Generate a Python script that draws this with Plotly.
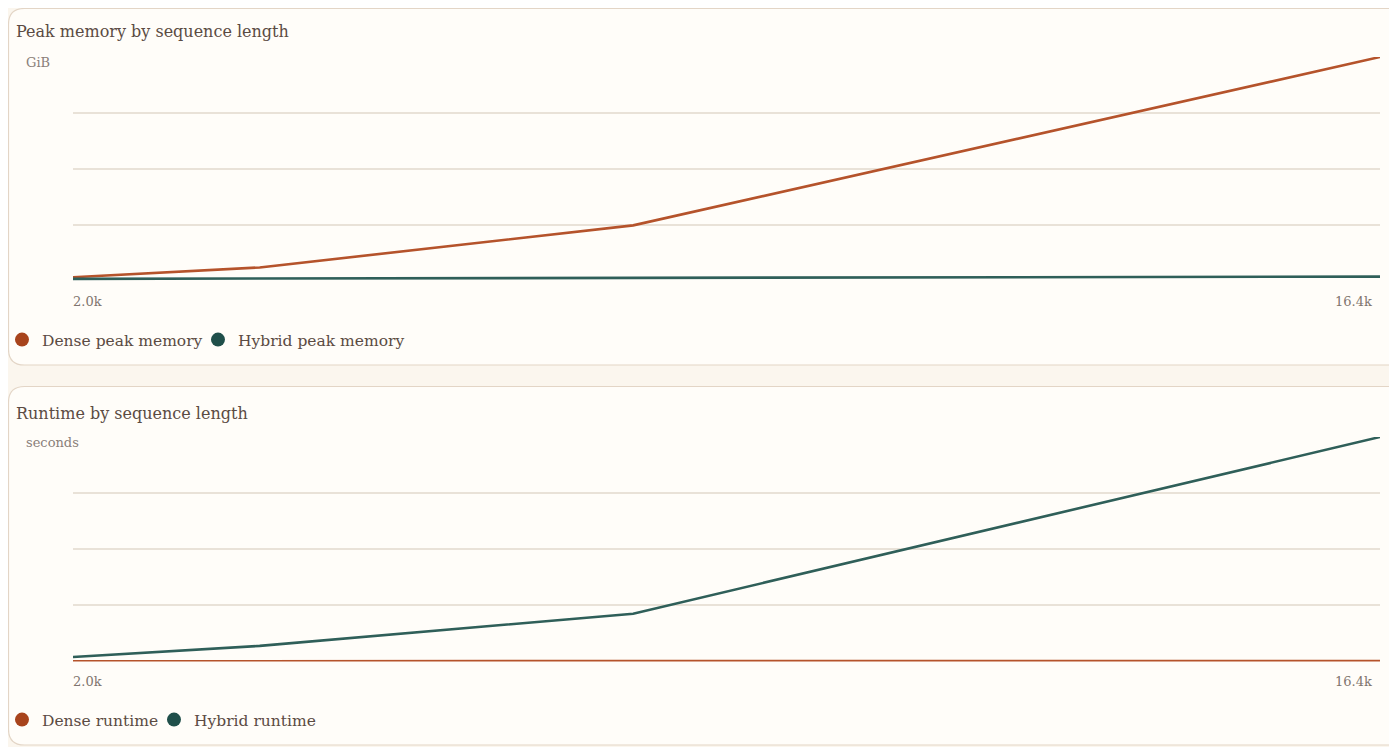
import plotly.graph_objects as go

# sequence lengths (tokens)
seq_len = [2048, 4096, 8192, 16384]
x_tick_vals = [2048, 16384]
x_tick_text = ["2.0k", "16.4k"]

# peak memory, GiB
dense_mem = [0.61, 2.0, 8.0, 32.0]
hybrid_mem = [0.38, 0.42, 0.50, 0.70]

# runtime, seconds
dense_rt = [0.05, 0.06, 0.08, 0.10]
hybrid_rt = [0.90, 3.1, 9.5, 44.6]

# page body has an 8px margin, so the figure sits at (8, 8) on screen
OFF = 8
W, H = 1397 - OFF, 747 - OFF
ORANGE_LINE = "#b5532b"
ORANGE_DOT = "#a8441c"
TEAL_LINE = "#2f5f59"
TEAL_DOT = "#1f4f4a"
FONT = "Georgia, 'DejaVu Serif', serif"


def px(x):
    return (x - OFF) / W


def py(y):
    return 1 - (y - OFF) / H


def card(x0, y0, x1, y1, r=16):
    # rounded rect path, screen pixels -> paper
    p = [
        f"M {px(x0 + r)},{py(y0)}",
        f"L {px(x1 - r)},{py(y0)}",
        f"Q {px(x1)},{py(y0)} {px(x1)},{py(y0 + r)}",
        f"L {px(x1)},{py(y1 - r)}",
        f"Q {px(x1)},{py(y1)} {px(x1 - r)},{py(y1)}",
        f"L {px(x0 + r)},{py(y1)}",
        f"Q {px(x0)},{py(y1)} {px(x0)},{py(y1 - r)}",
        f"L {px(x0)},{py(y0 + r)}",
        f"Q {px(x0)},{py(y0)} {px(x0 + r)},{py(y0)}",
        "Z",
    ]
    return dict(type="path", xref="paper", yref="paper", path=" ".join(p),
                fillcolor="#fffdf9", line=dict(color="#e3d5c6", width=1.2),
                layer="below")


fig = go.Figure()

# one legend per entry so each can be placed where the reference has it
panels = [
    ("x", "y", ["legend", "legend2"], "Dense peak memory", "Hybrid peak memory", dense_mem, hybrid_mem),
    ("x2", "y2", ["legend3", "legend4"], "Dense runtime", "Hybrid runtime", dense_rt, hybrid_rt),
]
for xa, ya, lgs, n1, n2, d, h in panels:
    series = [(n1, d, ORANGE_LINE, ORANGE_DOT), (n2, h, TEAL_LINE, TEAL_DOT)]
    draw = series if xa == "x" else series[::-1]
    for name, vals, lc, dc in draw:
        fig.add_trace(go.Scatter(x=seq_len, y=vals, mode="lines", name=name,
                                 line=dict(color=lc, width=2.6),
                                 xaxis=xa, yaxis=ya, showlegend=False))
    for (name, vals, lc, dc), lg in zip(series, lgs):
        fig.add_trace(go.Scatter(x=[None], y=[None], mode="markers", name=name,
                                 marker=dict(color=dc, size=14),
                                 xaxis=xa, yaxis=ya, legend=lg))

ymax_mem = max(dense_mem)
ymax_rt = max(hybrid_rt)
grid = dict(showgrid=True, gridcolor="#e9e2d8", gridwidth=2, zeroline=False,
            showticklabels=False, ticks="", showline=False)
xax = dict(showgrid=False, zeroline=False, showticklabels=False, ticks="",
           range=[seq_len[0], seq_len[-1]])
leg = dict(orientation="h", xanchor="left", yanchor="middle", indentation=-6,
           font=dict(size=15.5, color="#5b4b43"), bgcolor="rgba(0,0,0,0)")

fig.update_layout(
    width=W, height=H,
    margin=dict(l=0, r=0, t=0, b=0),
    paper_bgcolor="#fbf6ee",
    plot_bgcolor="rgba(0,0,0,0)",
    font=dict(family=FONT, color="#5b4b43"),
    xaxis=dict(domain=[px(73), px(1380)], anchor="y", **xax),
    yaxis=dict(domain=[py(281.5), py(57)], anchor="x", range=[0, ymax_mem],
               tick0=0, dtick=ymax_mem / 4, **grid),
    xaxis2=dict(domain=[px(73), px(1380)], anchor="y2", **xax),
    yaxis2=dict(domain=[py(661.5), py(437)], anchor="x2", range=[0, ymax_rt],
                tick0=0, dtick=ymax_rt / 4, **grid),
    legend=dict(x=px(8), y=py(340), **leg),
    legend2=dict(x=px(204), y=py(340), **leg),
    legend3=dict(x=px(8), y=py(720), **leg),
    legend4=dict(x=px(160), y=py(720), **leg),
    shapes=[card(8.5, 8.5, 1420, 365), card(8.5, 386.5, 1420, 745)],
    hovermode="x unified",
)

annotations = []
for title, unit, ty, uy, xr, yr in [
    ("Peak memory by sequence length", "GiB", 32, 62, "x", "y"),
    ("Runtime by sequence length", "seconds", 413, 443, "x2", "y2"),
]:
    annotations.append(dict(text=title, xref="paper", yref="paper", x=px(14), y=py(ty),
                            xanchor="left", yanchor="middle", showarrow=False,
                            font=dict(size=16, color="#5b4b43")))
    annotations.append(dict(text=unit, xref="paper", yref="paper", x=px(24), y=py(uy),
                            xanchor="left", yanchor="middle", showarrow=False,
                            font=dict(size=13, color="#8a8079")))
    for i, (tv, tt) in enumerate(zip(x_tick_vals, x_tick_text)):
        annotations.append(dict(text=tt, xref=xr, yref=f"{yr} domain", x=tv, y=0,
                                xanchor="left" if i == 0 else "right",
                                xshift=-2 if i == 0 else -6, yshift=-20,
                                yanchor="middle", showarrow=False,
                                font=dict(size=13, color="#7f756e")))
fig.update_layout(annotations=annotations)

fig.write_html("out.html")
